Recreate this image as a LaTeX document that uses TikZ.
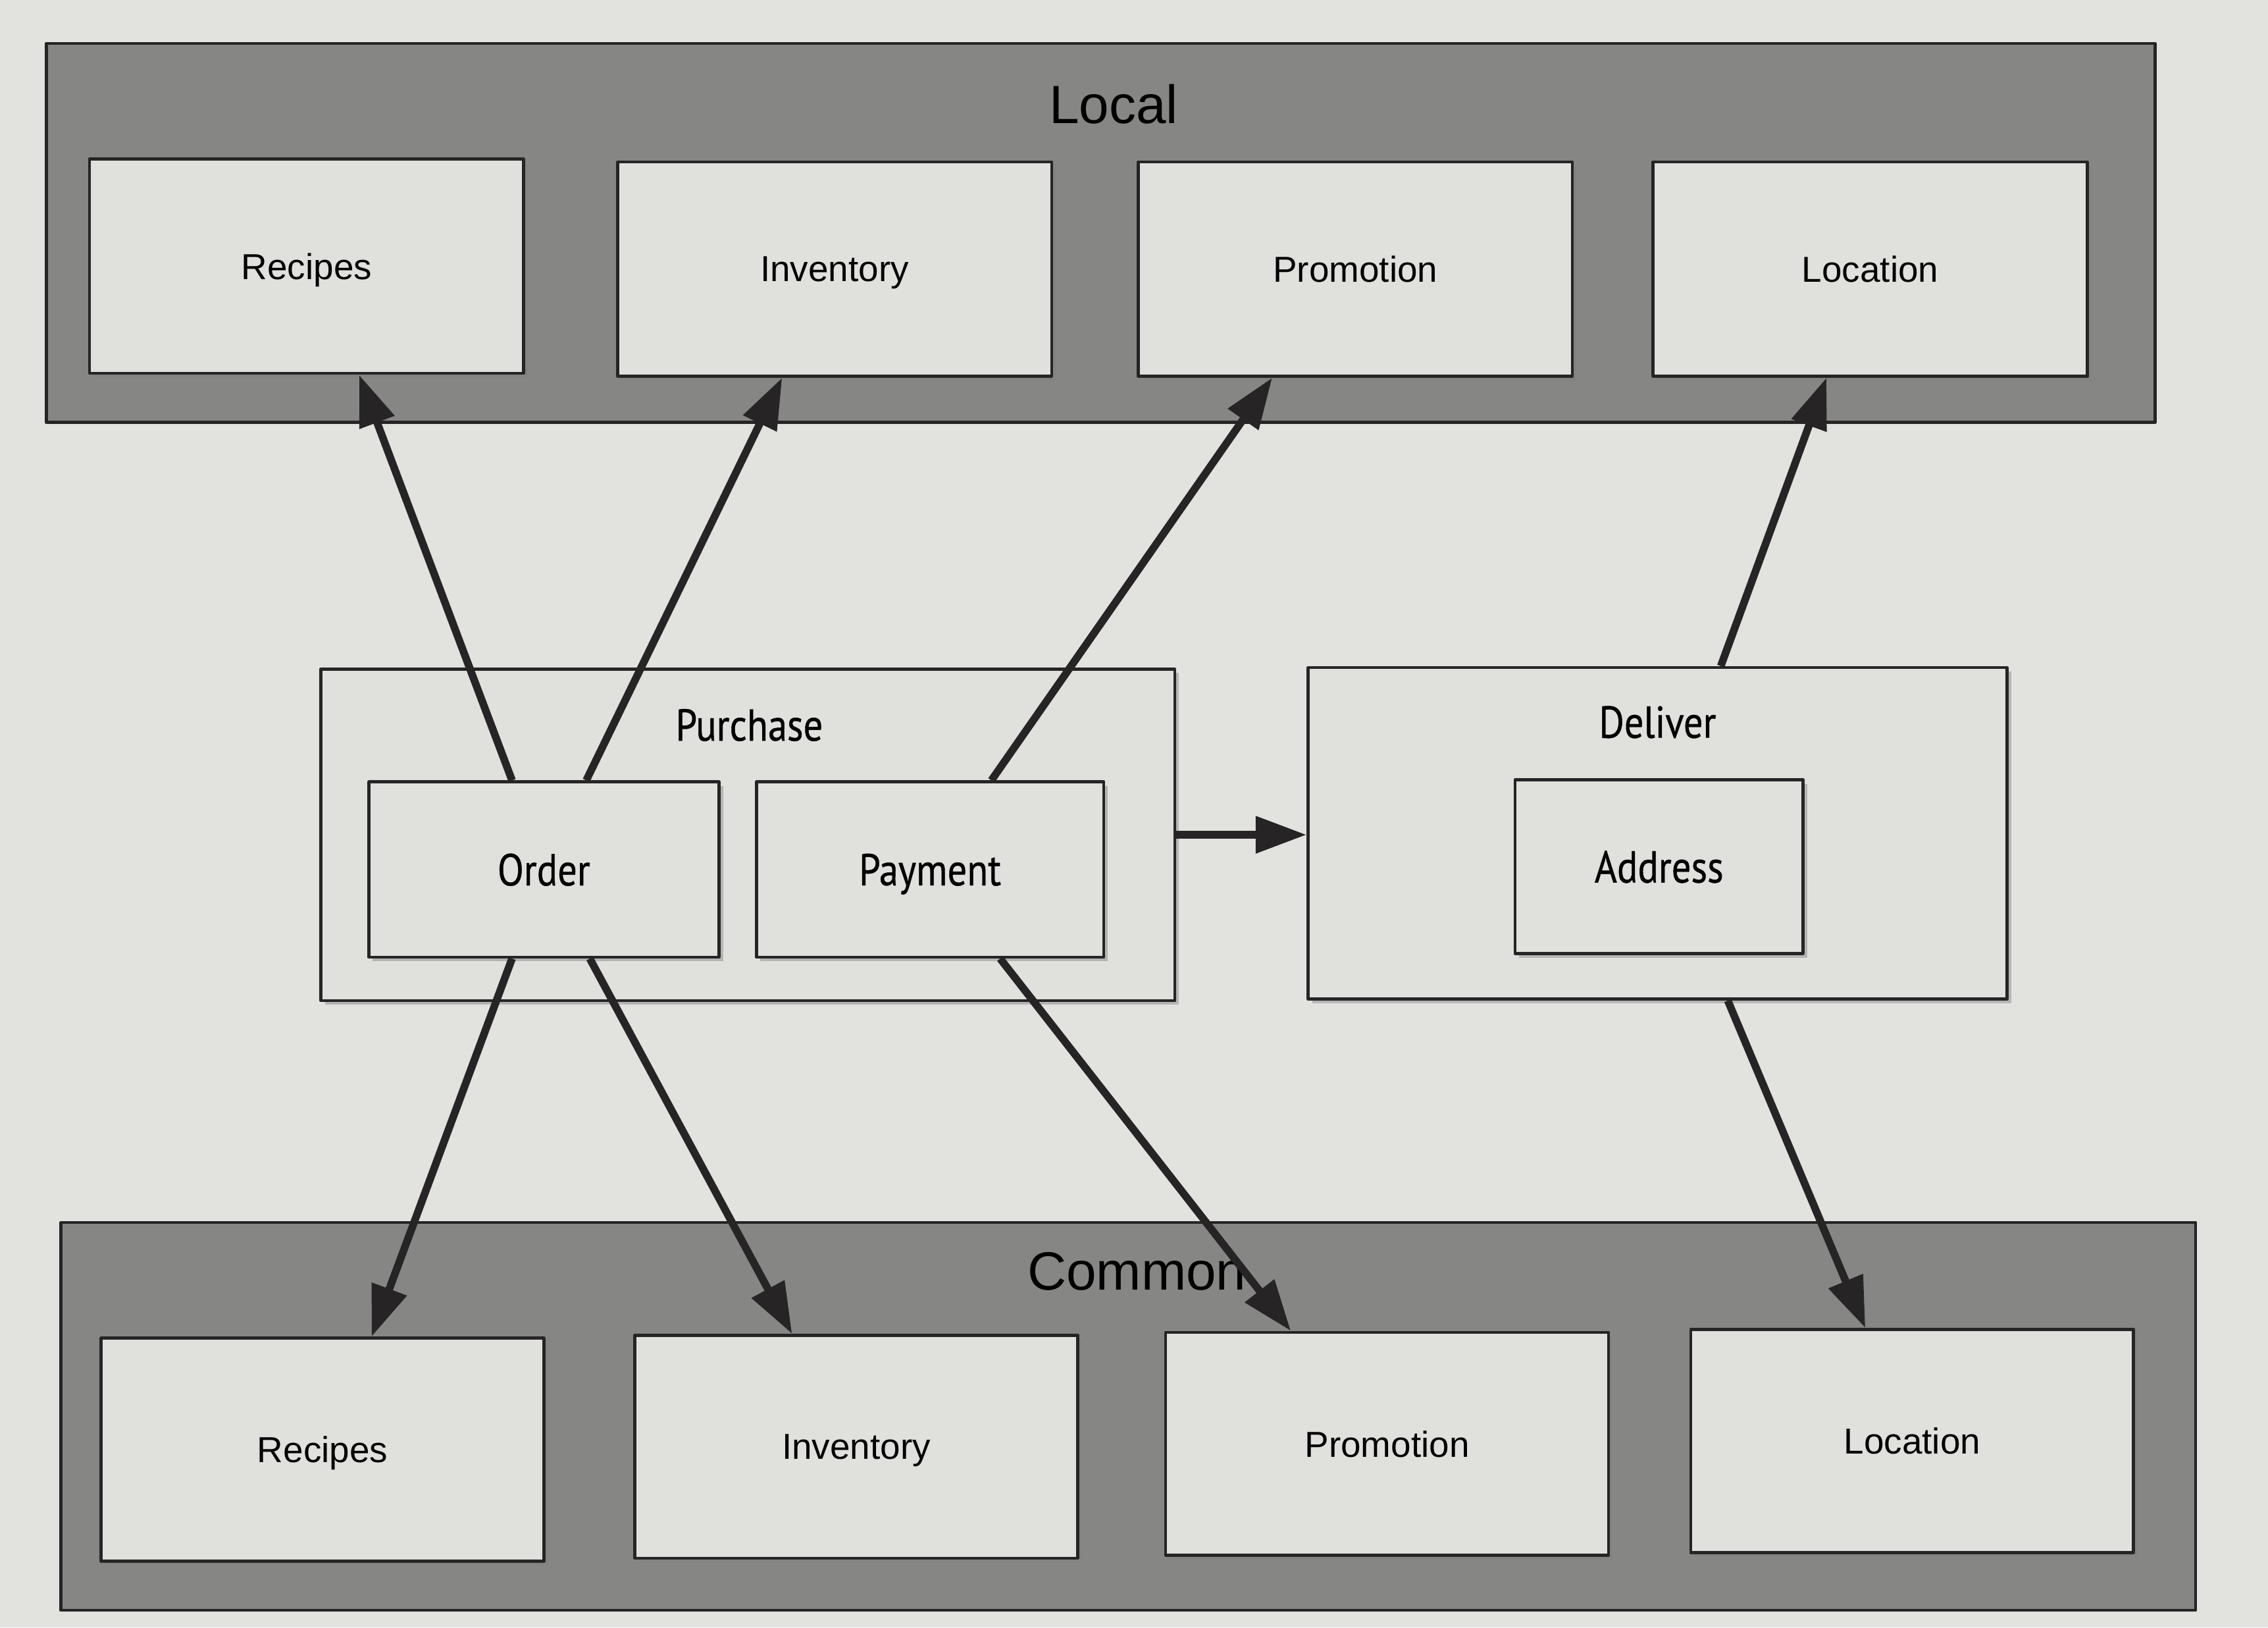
\documentclass[tikz,border=0pt]{standalone}
\usepackage{fontspec}
\setmainfont{Liberation Sans}
\newfontfamily\condfont[FakeStretch=0.86,FakeBold=0.6]{PT Sans}
\usetikzlibrary{arrows.meta,calc,shadows}
\definecolor{paper}{HTML}{E2E2DF}
\definecolor{bandgray}{HTML}{868685}
\definecolor{boxfill}{HTML}{E0E0DD}
\definecolor{ink}{HTML}{262424}

\begin{document}
\begin{tikzpicture}[x=0.01cm,y=-0.01cm,line join=round,
  band/.style={draw=ink,line width=0.6pt,fill=bandgray},
  bandlabel/.style={inner sep=0pt,font=\fontsize{10.6}{12}\selectfont},
  ctxbox/.style={draw=ink,line width=0.6pt,fill=boxfill,inner sep=0pt,text depth=0pt,
    minimum width=3cm,minimum height=1.48cm,font=\fontsize{7.1}{8}\selectfont,
    drop shadow={shadow xshift=0.8pt,shadow yshift=-0.8pt,opacity=0.45}},
  lowbox/.style={ctxbox,minimum width=3.06cm,minimum height=1.54cm},
  svcbox/.style={draw=ink,line width=0.6pt,fill=boxfill,inner sep=0pt,
    drop shadow={shadow xshift=0.8pt,shadow yshift=-0.8pt,opacity=0.45}},
  svclabel/.style={inner sep=0pt,text depth=0pt,font=\condfont\fontsize{8.8}{10}\selectfont},
  conn/.style={draw=ink,line width=1.5pt,-{Triangle[length=10pt,width=7pt]}}]
  % paper and page margins
  \fill[paper] (0,0) rectangle (1568,1125);

  % upper band with the local contexts
  \draw[band] (32,30) rectangle (1490,292);
  \node[bandlabel] (localtxt) at (770,72) {Local};
  \node[ctxbox] (lrec) at (212,184) {Recipes};
  \node[ctxbox] (linv) at (577,186) {Inventory};
  \node[ctxbox] (lpro) at (937,186) {Promotion};
  \node[ctxbox] (lloc) at (1293,186) {Location};

  % lower band with the common contexts
  \draw[band] (42,845) rectangle (1518,1113);
  \node[bandlabel] (commontxt) at (786,879) {Common};
  \node[lowbox] (crec) at (223,1002) {Recipes};
  \node[lowbox] (cinv) at (592,1000) {Inventory};
  \node[lowbox] (cpro) at (959,998) {Promotion};
  \node[lowbox] (cloc) at (1322,996) {Location};

  % purchase service
  \node[svcbox,minimum width=5.9cm,minimum height=2.29cm] (purchase) at (517,577) {};
  \node[svclabel] (purchasetxt) at (518,501) {Purchase};
  \node[svcbox,svclabel,minimum width=2.42cm,minimum height=1.21cm] (order) at (376,601) {Order};
  \node[svcbox,svclabel,minimum width=2.40cm,minimum height=1.21cm] (payment) at (643,601) {Payment};

  % deliver service
  \node[svcbox,minimum width=4.83cm,minimum height=2.29cm] (deliver) at (1146,576) {};
  \node[svclabel] (delivertxt) at (1146,499) {Deliver};
  \node[svcbox,svclabel,minimum width=1.99cm,minimum height=1.20cm] (address) at (1147,599) {Address};

  % dependencies
  \draw[conn] (purchase.east) -- (purchase.east -| deliver.west);
  \draw[conn] ($(order.north west)!0.41!(order.north east)$) -- ($(lrec.south west)!0.62!(lrec.south east)$);
  \draw[conn] ($(order.north west)!0.62!(order.north east)$) -- ($(linv.south west)!0.38!(linv.south east)$);
  \draw[conn] ($(payment.north west)!0.675!(payment.north east)$) -- ($(lpro.south west)!0.31!(lpro.south east)$);
  \draw[conn] ($(deliver.north west)!0.59!(deliver.north east)$) -- ($(lloc.south west)!0.40!(lloc.south east)$);
  \draw[conn] ($(order.south west)!0.41!(order.south east)$) -- ($(crec.north west)!0.61!(crec.north east)$);
  \draw[conn] ($(order.south west)!0.63!(order.south east)$) -- ($(cinv.north west)!0.356!(cinv.north east)$);
  \draw[conn] ($(payment.south west)!0.70!(payment.south east)$) -- ($(cpro.north west)!0.284!(cpro.north east)$);
  \draw[conn] ($(deliver.south west)!0.60!(deliver.south east)$) -- ($(cloc.north west)!0.395!(cloc.north east)$);
\end{tikzpicture}
\end{document}
